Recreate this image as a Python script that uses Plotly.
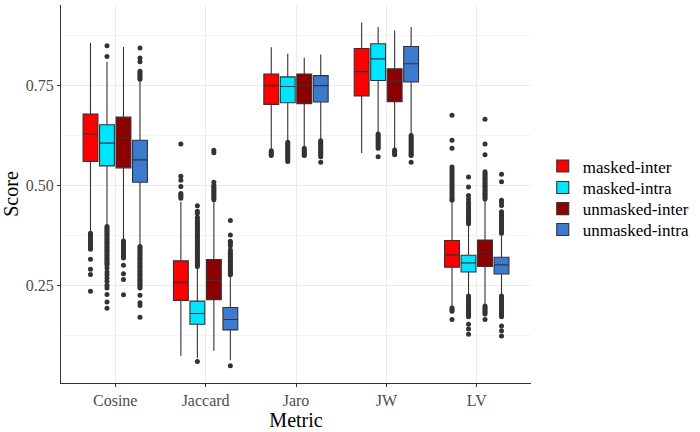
import plotly.graph_objects as go

metrics = ["Cosine", "Jaccard", "Jaro", "JW", "LV"]
series_names = ["masked-inter", "masked-intra", "unmasked-inter", "unmasked-intra"]
series_colors = ["#FF0000", "#00E5FF", "#8B0000", "#3A7BD0"]

# masked-inter
mi_q1 = [0.560, 0.212, 0.703, 0.724, 0.295]
mi_med = [0.629, 0.257, 0.750, 0.785, 0.326]
mi_q3 = [0.679, 0.311, 0.779, 0.843, 0.362]
mi_lo = [0.383, 0.073, 0.592, 0.581, 0.198]
mi_hi = [0.857, 0.459, 0.846, 0.908, 0.457]
mi_out = [
    [0.380, 0.376, 0.372, 0.368, 0.364, 0.360, 0.356, 0.352, 0.348, 0.344, 0.340, 0.315, 0.290, 0.277, 0.235],
    [0.604, 0.523, 0.513, 0.497, 0.480, 0.476, 0.472, 0.468],
    [0.587, 0.583, 0.579, 0.575],
    [],
    [0.676, 0.613, 0.593, 0.546, 0.541, 0.536, 0.531, 0.526, 0.521, 0.516, 0.511, 0.506, 0.501, 0.496,
     0.491, 0.486, 0.481, 0.476, 0.471, 0.466, 0.463, 0.193, 0.189, 0.185, 0.164],
]

# masked-intra
ma_q1 = [0.549, 0.152, 0.707, 0.763, 0.283]
ma_med = [0.606, 0.179, 0.748, 0.817, 0.306]
ma_q3 = [0.652, 0.210, 0.772, 0.855, 0.325]
ma_lo = [0.400, 0.067, 0.612, 0.633, 0.227]
ma_hi = [0.810, 0.293, 0.830, 0.897, 0.401]
ma_out = [
    [0.850, 0.823, 0.397, 0.393, 0.389, 0.385, 0.381, 0.377, 0.373, 0.369, 0.365, 0.361, 0.357, 0.353,
     0.349, 0.345, 0.341, 0.337, 0.333, 0.329, 0.325, 0.321, 0.317, 0.313, 0.309, 0.305, 0.301, 0.293,
     0.283, 0.276, 0.268, 0.260, 0.250, 0.243, 0.227, 0.208, 0.192],
    [0.449, 0.435, 0.430, 0.420, 0.416, 0.410, 0.405, 0.400, 0.396, 0.392, 0.388, 0.384, 0.380, 0.376,
     0.372, 0.368, 0.364, 0.360, 0.356, 0.352, 0.348, 0.344, 0.340, 0.336, 0.332, 0.328, 0.324, 0.320,
     0.316, 0.312, 0.308, 0.304, 0.300, 0.297, 0.059],
    [0.608, 0.604, 0.600, 0.596, 0.592, 0.588, 0.584, 0.580, 0.576, 0.572, 0.568, 0.564, 0.560],
    [0.629, 0.625, 0.621, 0.617, 0.613, 0.609, 0.605, 0.601, 0.597, 0.593, 0.572],
    [0.521, 0.496, 0.475, 0.466, 0.458, 0.452, 0.446, 0.440, 0.436, 0.432, 0.428, 0.424, 0.420, 0.416,
     0.412, 0.408, 0.404, 0.223, 0.219, 0.215, 0.211, 0.207, 0.203, 0.199, 0.195, 0.191, 0.187, 0.183,
     0.179, 0.175, 0.171, 0.152, 0.140, 0.127],
]

# unmasked-inter
ui_q1 = [0.544, 0.214, 0.705, 0.710, 0.297]
ui_med = [0.619, 0.262, 0.750, 0.762, 0.332]
ui_q3 = [0.671, 0.314, 0.779, 0.792, 0.363]
ui_lo = [0.365, 0.086, 0.596, 0.592, 0.202]
ui_hi = [0.847, 0.460, 0.820, 0.888, 0.462]
ui_out = [
    [0.361, 0.357, 0.353, 0.349, 0.345, 0.341, 0.337, 0.333, 0.329, 0.325, 0.321, 0.318, 0.300, 0.279,
     0.264, 0.226],
    [0.588, 0.582, 0.508, 0.500, 0.496, 0.492, 0.488, 0.484, 0.480, 0.476, 0.472, 0.468, 0.464],
    [0.593, 0.589, 0.585, 0.581, 0.577, 0.575],
    [0.589, 0.585, 0.581, 0.577],
    [0.666, 0.604, 0.577, 0.534, 0.530, 0.526, 0.522, 0.518, 0.514, 0.510, 0.506, 0.502, 0.498, 0.494,
     0.490, 0.486, 0.482, 0.478, 0.474, 0.470, 0.466, 0.198, 0.194, 0.190, 0.186, 0.182, 0.178, 0.164],
]

# unmasked-intra
ua_q1 = [0.508, 0.138, 0.709, 0.759, 0.278]
ua_med = [0.564, 0.164, 0.750, 0.805, 0.301]
ua_q3 = [0.613, 0.194, 0.775, 0.848, 0.320]
ua_lo = [0.350, 0.062, 0.615, 0.628, 0.227]
ua_hi = [0.762, 0.272, 0.828, 0.897, 0.376]
ua_out = [
    [0.844, 0.819, 0.810, 0.786, 0.782, 0.778, 0.774, 0.770, 0.766, 0.347, 0.343, 0.339, 0.335, 0.331,
     0.327, 0.323, 0.319, 0.315, 0.311, 0.307, 0.303, 0.299, 0.295, 0.291, 0.287, 0.283, 0.279, 0.275,
     0.271, 0.267, 0.263, 0.259, 0.255, 0.251, 0.247, 0.243, 0.225, 0.206, 0.199, 0.170],
    [0.412, 0.376, 0.360, 0.355, 0.349, 0.338, 0.334, 0.330, 0.326, 0.322, 0.318, 0.314, 0.310, 0.306,
     0.302, 0.298, 0.294, 0.290, 0.286, 0.282, 0.278, 0.276, 0.048],
    [0.612, 0.608, 0.604, 0.600, 0.596, 0.592, 0.588, 0.584, 0.580, 0.576, 0.572, 0.558],
    [0.625, 0.621, 0.617, 0.613, 0.609, 0.605, 0.601, 0.597, 0.593, 0.589, 0.585, 0.581, 0.577, 0.575, 0.558],
    [0.528, 0.509, 0.463, 0.457, 0.450, 0.434, 0.430, 0.426, 0.422, 0.418, 0.414, 0.410, 0.406, 0.402,
     0.398, 0.394, 0.390, 0.386, 0.382, 0.380, 0.223, 0.219, 0.215, 0.211, 0.207, 0.203, 0.199, 0.195,
     0.191, 0.187, 0.183, 0.179, 0.175, 0.171, 0.148, 0.136, 0.123],
]

y_ticks = [0.25, 0.50, 0.75]
y_tick_labels = ["0.25", "0.50", "0.75"]
y_minor = [0.125, 0.375, 0.625, 0.875]

stats = [
    (mi_q1, mi_med, mi_q3, mi_lo, mi_hi, mi_out),
    (ma_q1, ma_med, ma_q3, ma_lo, ma_hi, ma_out),
    (ui_q1, ui_med, ui_q3, ui_lo, ui_hi, ui_out),
    (ua_q1, ua_med, ua_q3, ua_lo, ua_hi, ua_out),
]

SERIF = "Liberation Serif"
legend_ids = ["legend", "legend2", "legend3", "legend4"]
legend_y = [0.573, 0.516, 0.460, 0.405]

fig = go.Figure()
for name, color, lid, (q1, med, q3, lo, hi, out) in zip(series_names, series_colors, legend_ids, stats):
    fig.add_trace(go.Box(
        name=name,
        x=metrics,
        q1=q1, median=med, q3=q3, lowerfence=lo, upperfence=hi,
        y=out,
        boxpoints="outliers",
        jitter=0, pointpos=0,
        fillcolor=color,
        line=dict(color="#333333", width=1.1),
        whiskerwidth=0,
        marker=dict(color="#333333", size=5, line=dict(width=0)),
        legend=lid,
        showlegend=True,
    ))

legend_common = dict(
    x=1.025, xanchor="left", yanchor="middle",
    font=dict(family=SERIF, size=17, color="black"),
    bgcolor="rgba(0,0,0,0)",
)
legends = {lid: dict(legend_common, y=ly) for lid, ly in zip(legend_ids, legend_y)}

fig.update_layout(
    width=700, height=432,
    showlegend=True,
    margin=dict(l=61, r=162, t=5, b=46),
    paper_bgcolor="white", plot_bgcolor="white",
    boxmode="group", boxgap=0.27, boxgroupgap=0.1,
    font=dict(family=SERIF, color="#4D4D4D", size=16),
    xaxis=dict(
        type="category", range=[-0.6, 4.6],
        showgrid=True, gridcolor="#EBEBEB", gridwidth=1,
        showline=True, linecolor="#333333", linewidth=1,
        ticks="outside", ticklen=3, tickcolor="#333333",
        tickfont=dict(family=SERIF, size=16, color="#4D4D4D"),
        title=dict(text="Metric", font=dict(family=SERIF, size=20, color="black"), standoff=4),
        zeroline=False,
    ),
    yaxis=dict(
        range=[0.005, 0.952],
        tickvals=y_ticks, ticktext=y_tick_labels,
        showgrid=True, gridcolor="#EBEBEB", gridwidth=1,
        minor=dict(tickvals=y_minor, showgrid=True, gridcolor="#F4F4F4", gridwidth=1),
        showline=True, linecolor="#333333", linewidth=1,
        ticks="outside", ticklen=3, tickcolor="#333333",
        tickfont=dict(family=SERIF, size=16, color="#4D4D4D"),
        title=dict(text="Score", font=dict(family=SERIF, size=20, color="black"), standoff=6),
        zeroline=False,
    ),
    **legends,
)

fig.write_html("out.html")
